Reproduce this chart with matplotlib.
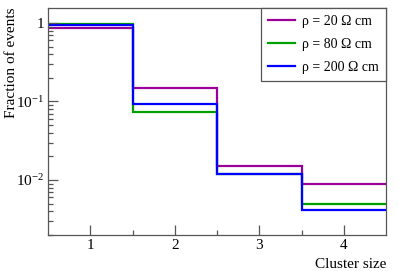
import numpy as np
import matplotlib
matplotlib.use("Agg")
import matplotlib.pyplot as plt
from matplotlib.ticker import FixedLocator, LogLocator, NullFormatter, FixedFormatter

plt.rcParams['font.family'] = ['Liberation Serif', 'DejaVu Serif']
plt.rcParams['mathtext.fontset'] = 'custom'
plt.rcParams['mathtext.rm'] = 'Liberation Serif'
plt.rcParams['mathtext.it'] = 'Liberation Serif:italic'

# cluster size bins and fraction of events per resistivity
bin_edges = [0.5, 1.5, 2.5, 3.5, 4.5]
frac_20 = [0.86, 0.147, 0.0152, 0.0090]
frac_80 = [0.955, 0.074, 0.0120, 0.0049]
frac_200 = [0.93, 0.092, 0.0120, 0.0041]
labels = [r"ρ = 20 Ω cm", r"ρ = 80 Ω cm", r"ρ = 200 Ω cm"]
colors = ["#990099", "#00a000", "#0000ff"]

fig = plt.figure(figsize=(3.98, 2.71), dpi=100)
ax = fig.add_axes([48/398, 1-235/271, 338/398, 227/271])

for vals, lab, c in zip([frac_20, frac_80, frac_200], labels, colors):
    ax.stairs(vals, bin_edges, baseline=None, color=c, lw=1.6, label=lab)

ax.set_yscale('log')
ax.set_xlim(0.5, 4.5)
ax.set_ylim(10**-2.70, 10**0.19)

ax.xaxis.set_major_locator(FixedLocator([1, 2, 3, 4]))
ax.xaxis.set_minor_locator(FixedLocator([1.5, 2.5, 3.5]))
ax.yaxis.set_major_locator(FixedLocator([1e-2, 1e-1, 1]))
ax.yaxis.set_major_formatter(FixedFormatter([r"$10^{-2}$", r"$10^{-1}$", "1"]))
ax.yaxis.set_minor_locator(LogLocator(base=10, subs=np.arange(2, 10), numticks=20))
ax.yaxis.set_minor_formatter(NullFormatter())

ax.tick_params(which='both', direction='in', colors='#555555', labelcolor='black',
               labelsize=11, top=False, right=False)
ax.tick_params(which='major', length=7, width=0.9)
ax.tick_params(which='minor', length=3.5, width=0.9)
ax.tick_params(axis='x', pad=3)
ax.tick_params(axis='y', pad=3)
for s in ax.spines.values():
    s.set_color('#555555')
    s.set_linewidth(0.9)

ax.set_xlabel("Cluster size", fontsize=11, loc='right')
ax.xaxis.set_label_coords(1.0, -0.10)
fig.text(12/398, 1-7/271, "Fraction of events", fontsize=11, rotation=90,
         ha='center', va='top')

leg = ax.legend(loc='upper right', bbox_to_anchor=(1, 1), borderaxespad=0,
                fontsize=10, fancybox=False, framealpha=1, edgecolor='#555555',
                handlelength=2.0, labelspacing=0.72, borderpad=0.5, handletextpad=0.5)
leg.get_frame().set_linewidth(0.9)

fig.savefig("out.png", dpi=100)
